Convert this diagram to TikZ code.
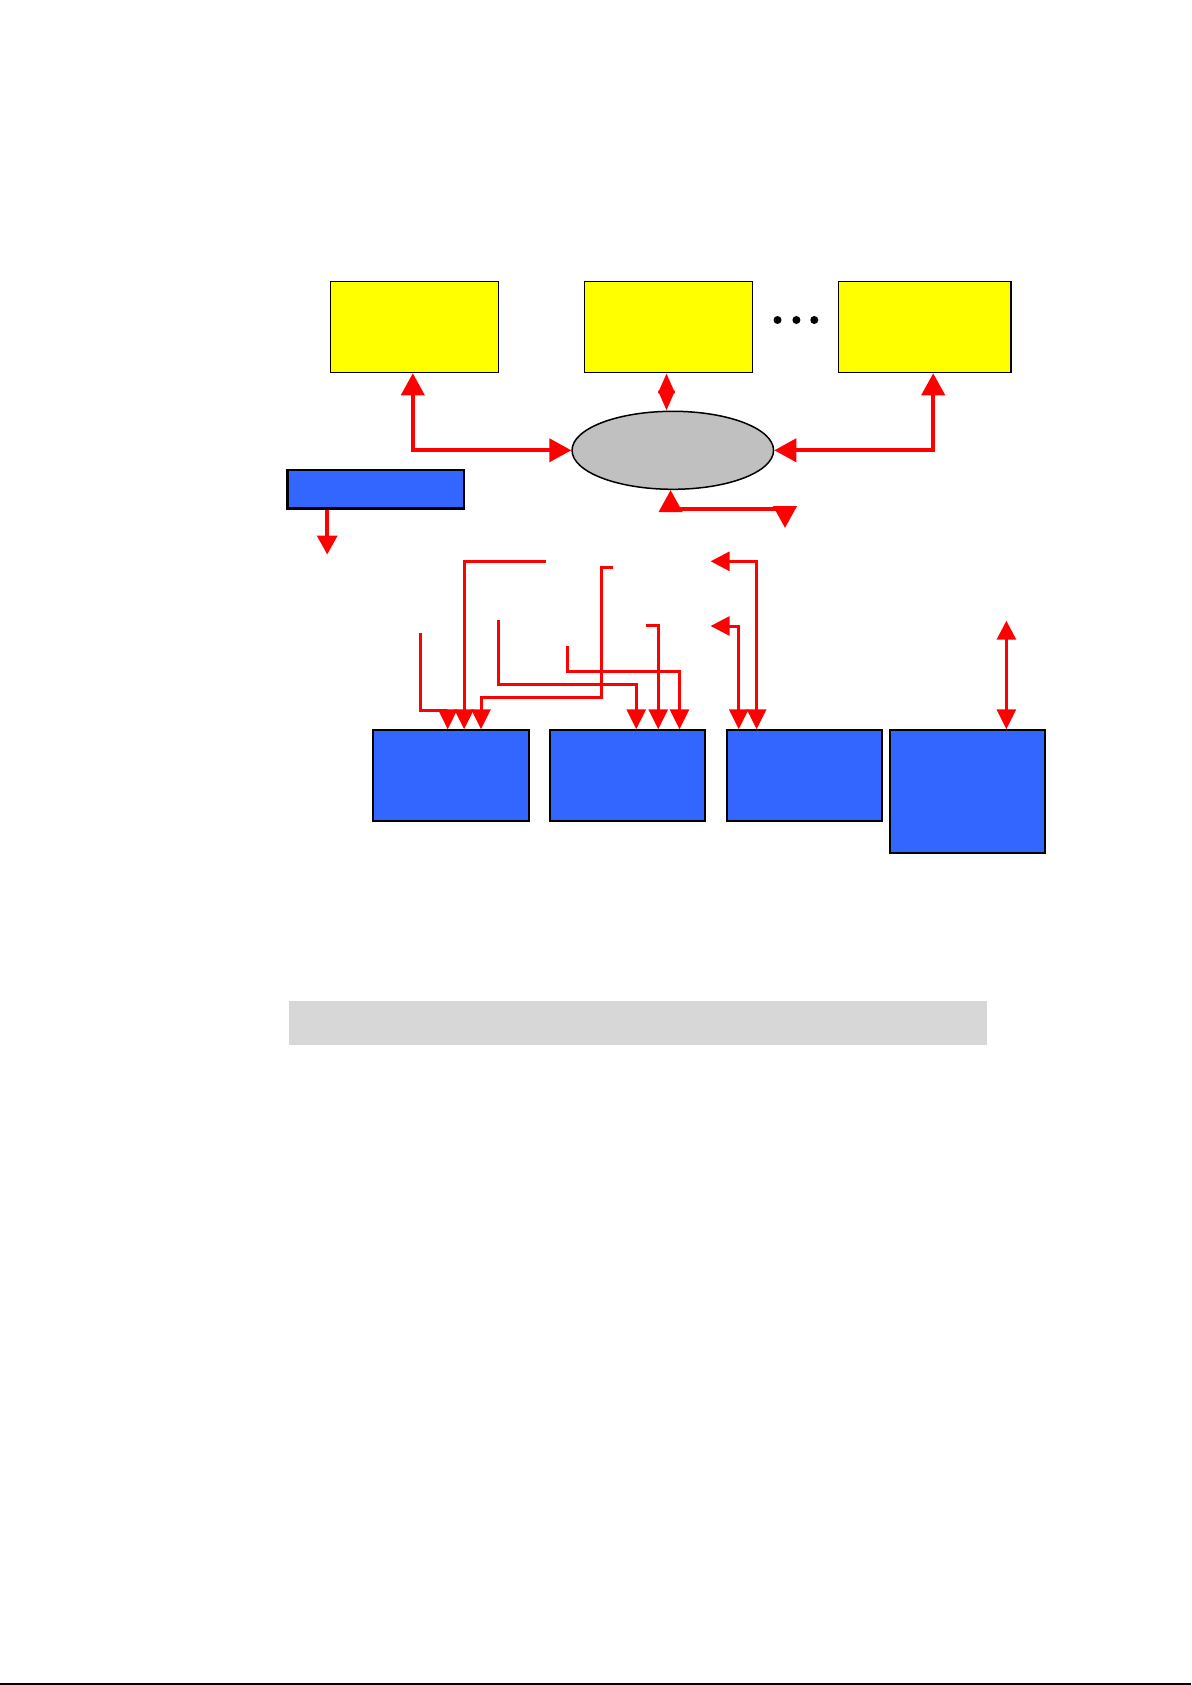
\documentclass[tikz,border=0pt]{standalone}
\usetikzlibrary{arrows.meta,shapes.geometric}
\definecolor{ybox}{HTML}{FFFF00}
\definecolor{bbox}{HTML}{3366FF}
\definecolor{egray}{HTML}{C0C0C0}
\definecolor{bargray}{HTML}{D6D7D6}
\definecolor{ared}{HTML}{FF0000}
\tikzset{
  ybx/.style={draw=black,line width=1.5pt,fill=ybox,rectangle,inner sep=0pt,minimum width=#1,minimum height=91pt},
  bbx/.style={draw=black,line width=2pt,fill=bbox,rectangle,inner sep=0pt,minimum width=155.3pt,minimum height=90.7pt},
  bigarr/.style={draw=ared,line width=4pt,line join=miter,-{Triangle[length=22pt,width=23pt]}},
  bigboth/.style={draw=ared,line width=4pt,{Triangle[length=22pt,width=23pt]}-{Triangle[length=22pt,width=23pt]}},
  smarr/.style={draw=ared,line width=3pt,-{Triangle[length=20pt,width=19pt]}},
  smboth/.style={draw=ared,line width=3pt,{Triangle[length=19pt,width=19pt]}-{Triangle[length=20pt,width=19pt]}},
  dotc/.style={circle,fill=black,inner sep=0pt,minimum size=8pt}
}
\begin{document}
\begin{tikzpicture}[x=1pt,y=-1pt]
\useasboundingbox (0,0) rectangle (1191,1685);
% yellow boxes
\node[ybx=167.7pt] (Y1) at (414.55,327) {};
\node[ybx=168.2pt] (Y2) at (668.5,327) {};
\node[ybx=172.2pt] (Y3) at (924.7,327) {};
\node[dotc] (d1) at (777.5,320) {};
\node[dotc] (d2) at (796.4,320) {};
\node[dotc] (d3) at (814.3,320) {};
% ellipse
\node[ellipse,draw=black,line width=1.5pt,fill=egray,minimum width=201.5pt,minimum height=78pt,inner sep=0pt] (E) at (672.8,450.3) {};
% small blue box
\node[draw=black,line width=2.2pt,fill=bbox,rectangle,inner sep=0pt,minimum width=176.6pt,minimum height=38.5pt] (SB) at (375.7,489.25) {};
% blue boxes
\node[bbx] (B1) at (451.1,775.65) {};
\node[bbx] (B2) at (627.8,775.65) {};
\node[bbx,minimum width=155pt] (B3) at (804.3,775.65) {};
\node[bbx,minimum width=154.7pt,minimum height=123pt] (B4) at (967.3,791.8) {};
% grey bar
\node[fill=bargray,rectangle,inner sep=0pt,minimum width=698pt,minimum height=44.3pt] (BAR) at (638,1022.85) {};
% bottom rule
\coordinate (bl) at (0,1684);
\coordinate (br) at (1191,1684);
\draw[line width=2.5pt] (bl) -- (br);

% top connectors
\coordinate (x1) at (412.8,0);
\coordinate (x2) at (666.5,0);
\coordinate (x3) at (933.2,0);
\coordinate (x4) at (670.6,0);
\draw[bigboth] (Y1.south -| x1) |- (E.west);
\draw[bigboth] (Y3.south -| x3) |- (E.east);
\draw[draw=ared,line width=4pt,{Triangle[length=20pt,width=16pt]}-{Triangle[length=20pt,width=16pt]}] (Y2.south -| x2) -- (E.north -| x2);
\coordinate (dn) at (785,528);
\draw[bigboth] (E.south -| x4) -- ++(0,19) -| (dn);
\coordinate (sbend) at (327.2,554.5);
\draw[draw=ared,line width=3.5pt,-{Triangle[length=19pt,width=20pt]}] (SB.south -| sbend) -- (sbend);

% free ends
\coordinate (a0) at (546.2,561.3);
\coordinate (a1) at (464.1,561.3);
\coordinate (b0) at (613.3,567);
\coordinate (b1) at (601,567);
\coordinate (b2) at (601,697);
\coordinate (b3) at (481,697);
\coordinate (c0) at (420.7,633);
\coordinate (c1) at (420.7,710.3);
\coordinate (c2) at (447.7,710.3);
\coordinate (d0) at (498.4,620);
\coordinate (d1c) at (498.4,684);
\coordinate (d2c) at (636.2,684);
\coordinate (e0) at (645.9,625);
\coordinate (e1) at (658.2,625);
\coordinate (f0) at (567.6,646);
\coordinate (f1) at (567.6,671.3);
\coordinate (f2) at (679.5,671.3);
\coordinate (g0) at (710.6,561.3);
\coordinate (g1) at (756.6,561.3);
\coordinate (h0) at (710.6,626);
\coordinate (h1) at (738.7,626);
\coordinate (r0) at (1006.4,620.7);

% connectors into box 1
\draw[smarr] (a0) -- (a1) -- (a1 |- B1.north);
\draw[smarr] (b0) -- (b1) -- (b2) -- (b3) -- (b3 |- B1.north);
\draw[smarr,line width=2.5pt] (c0) -- (c1) -- (c2) -- (c2 |- B1.north);
% connectors into box 2
\draw[smarr] (d0) -- (d1c) -- (d2c) -- (d2c |- B2.north);
\draw[smarr] (e0) -- (e1) -- (e1 |- B2.north);
\draw[smarr] (f0) -- (f1) -- (f2) -- (f2 |- B2.north);
% connectors of box 3
\draw[smboth] (g0) -- (g1) -- (g1 |- B3.north);
\draw[smboth] (h0) -- (h1) -- (h1 |- B3.north);
% box 4
\draw[smboth] (r0) -- (r0 |- B4.north);
\end{tikzpicture}
\end{document}
